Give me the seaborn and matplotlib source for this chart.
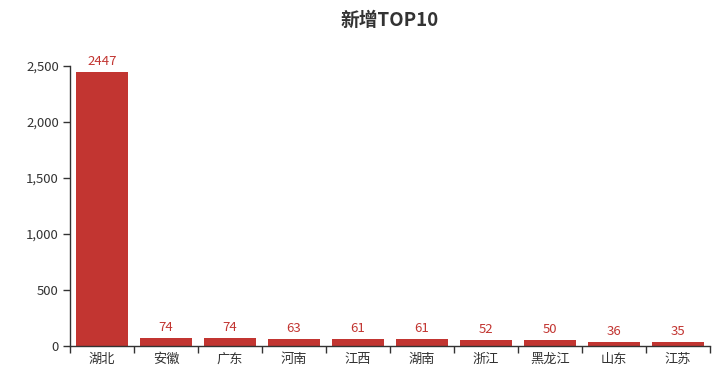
import matplotlib
matplotlib.use("Agg")
import matplotlib.pyplot as plt
import seaborn as sns
import pandas as pd
import numpy as np
from matplotlib.ticker import FuncFormatter, FixedLocator

provinces = ["湖北", "安徽", "广东", "河南", "江西", "湖南", "浙江", "黑龙江", "山东", "江苏"]
values = [2447, 74, 74, 63, 61, 61, 52, 50, 36, 35]
title = "新增TOP10"

sns.set_theme(style="white")
plt.rcParams['font.family'] = ['Noto Sans CJK SC', 'DejaVu Sans']

df = pd.DataFrame({"province": provinces, "value": values})

fig = plt.figure(figsize=(7.25, 3.8), dpi=100)
ax = fig.add_axes([70/725, 34/380, 640/725, 280/380])

sns.barplot(data=df, x="province", y="value", color="#c23531", width=0.8,
            saturation=1, ax=ax, edgecolor="none")

ax.set_ylim(0, 2500)
ax.set_xlim(-0.5, len(provinces) - 0.5)
ax.set_yticks(np.arange(0, 2501, 500))
ax.yaxis.set_major_formatter(FuncFormatter(lambda v, p: f"{int(v):,}"))
ax.set_xlabel("")
ax.set_ylabel("")

for i, v in enumerate(values):
    ax.annotate(str(v), (i, v), xytext=(0, 3), textcoords="offset points",
                ha="center", va="bottom", color="#c23531", fontsize=9.5)

for s in ["top", "right"]:
    ax.spines[s].set_visible(False)
for s in ["left", "bottom"]:
    ax.spines[s].set_color("#333333")
    ax.spines[s].set_linewidth(1)

ax.tick_params(axis="y", which="major", length=5, width=1, color="#333333",
               labelsize=9.5, labelcolor="#333333", left=True, direction="out", pad=3)
ax.tick_params(axis="x", which="major", length=0, labelsize=9.5, labelcolor="#333333", pad=5)
ax.xaxis.set_minor_locator(FixedLocator(np.arange(-0.5, len(provinces), 1.0)))
ax.tick_params(axis="x", which="minor", length=5, width=1, color="#333333",
               bottom=True, direction="out")
ax.grid(False)

fig.text(390/725, 1 - 20/380, title, ha="center", va="center",
         fontsize=13.5, fontweight="bold", color="#333333")

fig.savefig("out.png", dpi=100)
